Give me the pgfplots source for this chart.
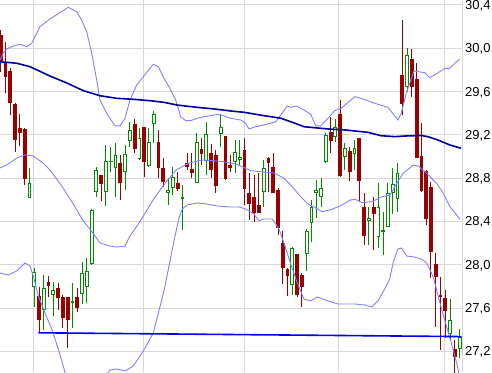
\documentclass[border=0pt]{standalone}
\usepackage{fontspec}
\setmainfont{Liberation Sans}
\usepackage{pgfplots}
\usepackage{pgfplotstable}
\pgfplotsset{compat=1.18}
\definecolor{cred}{RGB}{153,0,0}
\definecolor{cgreen}{RGB}{0,140,0}
\definecolor{bbc}{RGB}{128,128,255}
\definecolor{mac}{RGB}{0,0,160}
\definecolor{hlc}{RGB}{0,0,235}
\definecolor{gridc}{RGB}{216,216,216}

\pgfplotstableread{
i o h l c
0 30.123 30.169 29.781 29.874
1 29.874 30.058 29.587 29.735
2 29.790 29.818 29.384 29.495
3 29.486 29.495 29.042 29.153
4 29.264 29.393 29.098 29.218
5 29.255 29.264 28.738 28.793
8 27.713 27.796 27.371 27.491
10 27.842 27.897 27.704 27.805
12 27.787 27.833 27.584 27.694
13 27.704 27.722 27.417 27.510
14 27.704 27.704 27.233 27.491
16 27.704 27.787 27.565 27.602
21 28.830 28.830 28.590 28.747
25 28.941 29.015 28.599 28.756
28 29.301 29.347 29.033 29.070
30 29.273 29.273 28.812 28.950
33 29.135 29.246 28.802 28.895
34 28.895 28.987 28.719 28.765
37 28.756 28.858 28.682 28.701
39 28.941 29.033 28.876 28.904
40 28.885 29.033 28.802 28.849
42 29.070 29.172 28.922 29.024
44 29.033 29.116 28.802 28.876
45 29.015 29.061 28.664 28.728
47 29.190 29.190 28.784 28.793
48 28.922 29.015 28.858 28.895
51 29.061 29.172 28.553 28.701
52 28.664 28.849 28.415 28.562
53 28.627 28.830 28.396 28.479
54 28.553 28.849 28.479 28.479
56 28.987 28.996 28.673 28.941
57 28.904 29.033 28.664 28.664
58 28.692 28.710 28.276 28.341
59 28.202 28.313 27.824 27.971
60 27.962 27.971 27.713 27.897
62 28.101 28.101 27.704 27.722
63 27.907 27.925 27.611 27.796
69 29.227 29.366 29.033 29.144
71 29.393 29.523 28.812 28.821
73 29.052 29.089 28.775 28.858
75 29.172 29.172 28.581 28.775
76 28.535 28.664 28.184 28.267
78 28.535 28.627 28.138 28.470
84 29.753 30.261 29.384 29.486
86 29.901 29.993 29.550 29.643
87 29.716 29.864 28.987 28.987
88 29.006 29.310 28.673 28.682
89 28.867 28.876 28.368 28.424
90 28.719 28.765 27.879 28.119
91 28.008 28.110 27.426 27.888
92 27.722 27.888 27.214 27.704
93 27.694 27.768 27.325 27.574
95 27.223 27.306 26.955 27.149
}\redtab

\pgfplotstableread{
i o h l c
6 28.618 28.895 28.618 28.756
7 27.796 27.971 27.611 27.934
9 27.584 27.907 27.399 27.787
11 27.722 27.842 27.528 27.768
15 27.648 27.833 27.417 27.667
17 27.731 28.027 27.639 27.925
18 27.796 28.064 27.648 27.944
19 28.008 28.516 27.999 28.507
20 28.673 28.904 28.627 28.876
22 28.673 29.107 28.544 28.959
23 28.950 29.089 28.858 28.959
24 28.895 29.126 28.627 29.015
26 28.858 29.107 28.692 29.024
27 29.144 29.320 29.089 29.246
29 28.978 29.264 28.969 29.172
31 28.913 29.264 28.904 29.135
32 29.301 29.421 29.126 29.393
35 28.664 28.802 28.553 28.692
36 28.710 28.904 28.645 28.812
38 28.608 28.738 28.322 28.627
41 28.756 29.218 28.756 29.135
43 28.959 29.320 28.830 29.209
46 29.209 29.384 29.089 29.273
49 28.950 29.153 28.849 29.042
50 28.969 29.153 28.922 28.996
55 28.673 28.969 28.535 28.895
61 27.814 28.165 27.722 28.156
64 28.101 28.331 27.944 28.313
65 28.387 28.599 28.211 28.535
66 28.664 28.784 28.433 28.692
67 28.627 28.802 28.535 28.710
68 28.950 29.218 28.941 29.199
70 29.181 29.347 29.135 29.273
72 28.996 29.126 28.876 29.079
74 29.024 29.153 28.876 29.079
77 28.405 28.535 28.184 28.433
79 28.258 28.756 28.156 28.535
80 28.304 28.488 28.091 28.322
81 28.350 28.756 28.350 28.664
82 28.664 28.895 28.470 28.747
83 28.608 28.941 28.488 28.849
85 29.643 30.003 29.597 29.938
94 27.362 27.685 27.306 27.491
96 27.223 27.408 27.140 27.334
}\greentab

\pgfplotstableread{
x y
-0.17 29.892
0.52 29.957
1.23 29.994
2.62 30.021
4.02 30.037
5.42 30.015
6.46 30.046
7.51 30.139
8.20 30.199
10.29 30.271
12.38 30.329
14.12 30.379
15.88 30.338
16.92 30.261
17.97 30.153
19.02 29.954
20.06 29.707
20.75 29.523
22.15 29.400
23.89 29.283
24.94 29.283
25.98 29.354
27.03 29.523
28.43 29.661
29.81 29.738
31.90 29.852
32.95 29.830
34.14 29.723
35.19 29.645
36.59 29.523
37.63 29.368
38.68 29.332
39.73 29.332
41.11 29.354
42.51 29.368
45.65 29.391
48.10 29.354
50.19 29.338
51.23 29.307
51.92 29.255
53.32 29.276
55.06 29.292
57.51 29.322
58.55 29.384
59.94 29.467
60.65 29.455
61.90 29.467
63.43 29.430
64.83 29.393
65.88 29.283
66.92 29.283
68.45 29.354
69.85 29.424
71.23 29.446
74.04 29.553
75.42 29.538
78.22 29.492
81.00 29.455
83.09 29.338
83.78 29.400
84.83 29.585
86.44 29.790
88.68 29.775
89.73 29.729
91.11 29.763
92.86 29.815
93.91 29.815
94.96 29.862
96.00 29.898
}\bbup

\pgfplotstableread{
x y
-0.17 28.895
1.23 28.922
3.33 28.987
5.06 29.015
6.74 29.006
8.83 28.941
10.29 28.876
12.74 28.729
15.17 28.562
17.26 28.405
18.66 28.331
20.75 28.202
22.84 28.174
24.25 28.165
25.98 28.174
27.03 28.267
28.35 28.350
30.10 28.470
31.84 28.599
32.89 28.664
34.56 28.765
36.65 28.876
39.43 28.941
42.24 28.969
44.66 28.962
46.42 28.953
49.20 28.932
52.28 28.870
55.06 28.858
57.15 28.849
59.25 28.800
60.65 28.738
62.74 28.630
64.48 28.553
65.52 28.537
67.19 28.491
69.29 28.513
71.38 28.553
73.12 28.599
74.16 28.606
75.56 28.574
77.65 28.584
79.75 28.630
81.42 28.645
82.82 28.753
84.20 28.846
86.30 28.922
87.34 28.913
89.10 28.846
91.19 28.753
92.57 28.661
93.97 28.537
95.37 28.461
96.06 28.421
}\bbmid

\pgfplotstableread{
x y
-0.17 27.925
1.57 27.907
3.33 27.944
5.06 28.018
6.11 27.990
6.80 27.897
7.85 27.713
9.25 27.556
10.65 27.408
12.03 27.223
13.43 27.011
14.48 26.845
15.88 26.706
16.92 26.642
17.97 26.614
19.02 26.706
20.06 26.826
20.75 26.891
22.15 26.983
22.84 27.029
24.25 27.039
25.98 27.020
27.72 27.066
29.81 27.205
31.90 27.371
34.14 27.759
35.19 27.990
36.23 28.221
37.28 28.433
37.97 28.516
39.02 28.553
41.11 28.572
43.20 28.562
45.29 28.544
47.74 28.535
49.83 28.535
51.23 28.516
52.97 28.470
54.02 28.405
55.06 28.424
56.80 28.424
58.20 28.331
59.25 28.202
60.65 28.008
62.03 27.833
63.43 27.685
64.83 27.667
66.21 27.704
68.45 27.667
70.54 27.639
74.04 27.639
76.13 27.630
77.51 27.611
78.91 27.667
80.31 27.777
81.36 27.870
82.11 28.027
83.09 28.147
83.87 28.156
84.91 28.082
86.44 28.073
87.97 28.054
89.10 28.018
90.48 27.888
91.88 27.648
93.28 27.427
94.66 27.214
95.37 27.094
96.06 26.956
}\bblow

\pgfplotstableread{
x y
-0.17 29.876
3.33 29.862
6.11 29.830
10.29 29.744
13.79 29.680
17.26 29.609
20.75 29.562
24.25 29.538
27.72 29.529
31.21 29.516
34.14 29.501
36.86 29.476
41.05 29.455
44.60 29.440
48.16 29.421
50.88 29.409
55.06 29.378
58.62 29.354
61.97 29.301
63.43 29.276
68.45 29.255
72.01 29.246
76.82 29.224
79.54 29.193
82.47 29.184
84.56 29.190
87.91 29.195
89.37 29.184
91.46 29.153
93.97 29.107
96.28 29.077
}\matab

\begin{document}
\begin{tikzpicture}
\useasboundingbox (0,0) rectangle (492pt,372pt);
\begin{axis}[
  at={(0pt,0pt)}, anchor=south west,
  scale only axis, width=463pt, height=372pt,
  xmin=-0.167, xmax=96.7, ymin=27.011, ymax=30.446,
  axis line style={draw=none},
  xtick={6.8,29.75,50.9,70.75,92.93,96.69}, xticklabels={},
  ytick={27.2,27.6,28.0,28.4,28.8,29.2,29.6,30.0,30.4},
  yticklabel pos=right,
  tick style={draw=none},
  grid=major, major grid style={draw=gridc, line width=1pt},
  yticklabel style={font=\fontsize{13}{15}\selectfont, anchor=base west, inner sep=0pt, xshift=2pt, yshift=-4.4pt,
    /pgf/number format/.cd, fixed, fixed zerofill, precision=1, use comma, assume math mode=true},
]
% red wicks
\addplot[draw=none, mark=none, forget plot, error bars/.cd, y dir=plus, y explicit, error mark=none,
  error bar style={draw=cred, line width=1pt}]
  table[x=i, y=l, y error expr=\thisrow{h}-\thisrow{l}] {\redtab};
% red bodies
\addplot[draw=none, mark=none, forget plot, error bars/.cd, y dir=plus, y explicit, error mark=none,
  error bar style={draw=cred, line width=3.8pt}]
  table[x=i, y expr={min(\thisrow{o},\thisrow{c})}, y error expr={max(abs(\thisrow{o}-\thisrow{c}),0.011)}] {\redtab};
% green wicks
\addplot[draw=none, mark=none, forget plot, error bars/.cd, y dir=plus, y explicit, error mark=none,
  error bar style={draw=cgreen, line width=1pt}]
  table[x=i, y=l, y error expr=\thisrow{h}-\thisrow{l}] {\greentab};
% green bodies
\addplot[draw=none, mark=none, forget plot, error bars/.cd, y dir=plus, y explicit, error mark=none,
  error bar style={draw=cgreen, line width=3.8pt}]
  table[x=i, y=o, y error expr={max(\thisrow{c}-\thisrow{o},0.011)}] {\greentab};
% hollow interiors
\addplot[draw=none, mark=none, forget plot, error bars/.cd, y dir=plus, y explicit, error mark=none,
  error bar style={draw=white, line width=1.9pt}]
  table[x=i, y expr=\thisrow{o}+0.0095, y error expr={max(\thisrow{c}-\thisrow{o}-0.019,0)}] {\greentab};
% Bollinger bands
\addplot[bbc, line width=0.9pt, mark=none] table[x=x,y=y] {\bbup};
\addplot[bbc, line width=0.9pt, mark=none] table[x=x,y=y] {\bbmid};
\addplot[bbc, line width=0.9pt, mark=none] table[x=x,y=y] {\bblow};
% long moving average
\addplot[mac, line width=1.6pt, mark=none] table[x=x,y=y] {\matab};
% support line
\addplot[hlc, line width=1.6pt, mark=none] coordinates {(7.85,27.373) (96.4,27.338)};
\end{axis}
\end{tikzpicture}
\end{document}
